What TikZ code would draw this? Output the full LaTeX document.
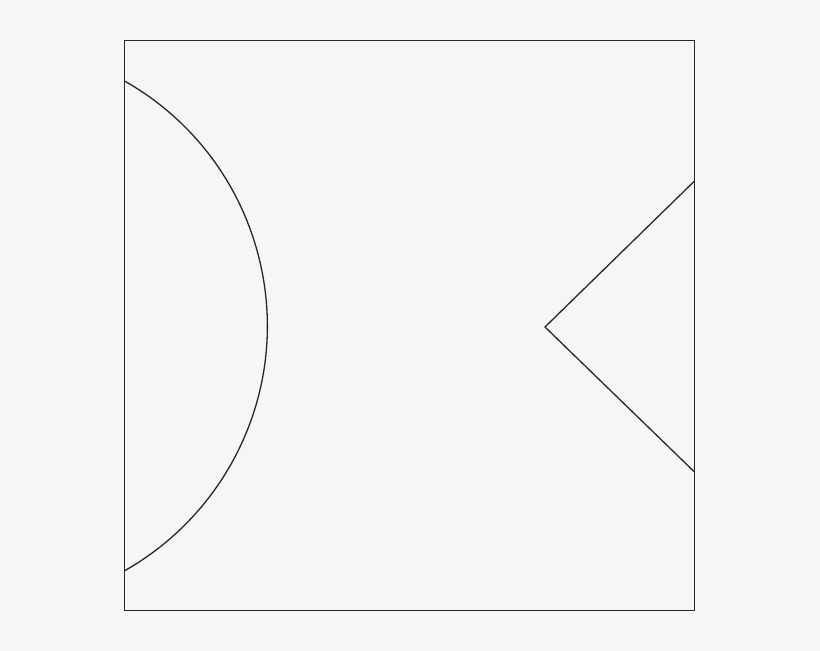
\documentclass[tikz,border=0pt]{standalone}
\definecolor{bg}{HTML}{F6F6F6}
\definecolor{ink}{HTML}{2A2626}
\tikzset{shape line/.style={draw=ink, line width=1.3pt}}
\begin{document}
\begin{tikzpicture}[x=1pt,y=1pt]
\fill[bg] (0,0) rectangle (820,651);
\useasboundingbox (0,0) rectangle (820,651);
% frame
\draw[shape line, line width=1pt] (124.5,40.5) rectangle (694.5,610.5);
% left arc
\draw[shape line] (124.5,570) arc[start angle=60.5, end angle=-60.5, radius=281.4];
% right V
\coordinate (vt) at (694.5,470);
\coordinate (vm) at (545,324);
\coordinate (vb) at (694.5,179);
\draw[shape line, line join=miter] (vt) -- (vm) -- (vb);
\end{tikzpicture}
\end{document}
